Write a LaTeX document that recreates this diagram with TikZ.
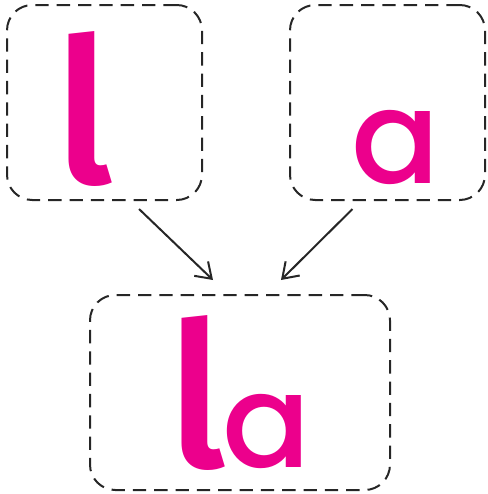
\documentclass[tikz,border=0pt]{standalone}
\usepackage{fontspec}
\usetikzlibrary{arrows.meta,positioning}
\newfontfamily\ellfont{Fira Sans Medium}
\newfontfamily\afont{Poppins Medium}
\definecolor{ink}{HTML}{EC008C}

\begin{document}
\begin{tikzpicture}[x=0.75pt, y=-0.75pt,
  card/.style={draw=black!85, line width=1.5pt, dash pattern=on 10pt off 6pt,
    rounded corners=19pt, minimum height=146.25pt, inner sep=0pt},
  letter/.style={text=ink, inner sep=0pt, anchor=base},
  link/.style={-{Straight Barb[length=11pt,width=15pt]}, line width=1.5pt, black!85}]
  \useasboundingbox (0,0) rectangle (488,494);

  % 1. Khung net dut
  \node[card, minimum width=146.25pt] (lcard) at (104.5,102.5) {};
  \node[card, minimum width=146.25pt] (acard) at (387.5,102.5) {};
  \node[card, minimum width=225pt] (lacard) at (240,392.5) {};

  % 2. Chu cai
  \node[letter, font=\ellfont\fontsize{151}{151}\selectfont] (ell) at (84,183) {l};
  \node[letter, font=\afont\fontsize{98}{98}\selectfont] (aa) at (396,183) {a};
  \node[letter, font=\ellfont\fontsize{151}{151}\selectfont] (lal) at (197,467) {l};
  \node[letter, font=\afont\fontsize{98}{98}\selectfont] (laa) at (267,467) {a};

  % 3. Mui ten ghep
  \draw[link] ([xshift=25.9pt, yshift=-6pt]lcard.south) -- ([xshift=-20.25pt, yshift=10.5pt]lacard.north);
  \draw[link] ([xshift=-26.25pt, yshift=-6pt]acard.south) -- ([xshift=30.75pt, yshift=10.5pt]lacard.north);
\end{tikzpicture}
\end{document}
